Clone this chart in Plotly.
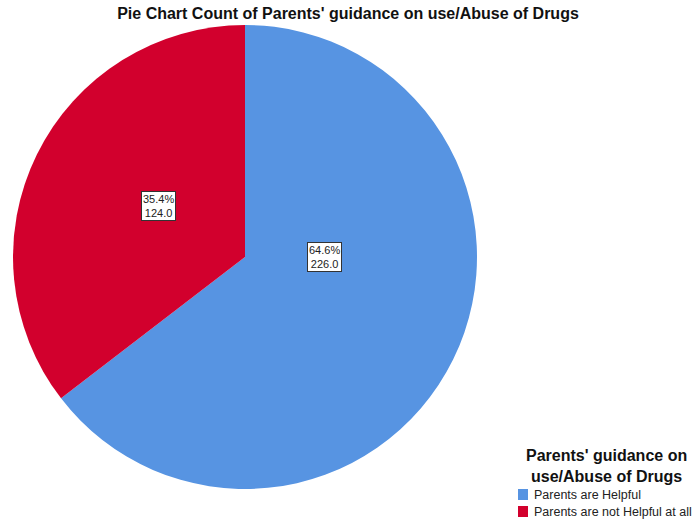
import math
import plotly.graph_objects as go

categories = ["Parents are Helpful", "Parents are not Helpful at all"]
counts = [226, 124]
colors = ["#5794E2", "#D2002D"]
title_text = "Pie Chart Count of Parents' guidance on use/Abuse of Drugs"
legend_title = "Parents' guidance on<br>use/Abuse of Drugs"

W, H = 697, 522
cx, cy, R = 245, 257, 232
dom_x = [(cx - R) / W, (cx + R) / W]
dom_y = [1 - (cy + R) / H, 1 - (cy - R) / H]

fig = go.Figure(go.Pie(
    labels=categories, values=counts, sort=False, direction="clockwise",
    rotation=0, marker=dict(colors=colors, line=dict(width=0)),
    textinfo="none", hoverinfo="label+value+percent",
    domain=dict(x=dom_x, y=dom_y), showlegend=False,
))

FONT = "Liberation Sans, Arial, sans-serif"
total = sum(counts)
start = 0.0
radius_factor = [0.38, 0.50]
for i, v in enumerate(counts):
    frac = v / total
    mid = (start + frac / 2) * 2 * math.pi
    start += frac
    r = R * radius_factor[i]
    px = cx + r * math.sin(mid)
    py = cy - r * math.cos(mid)
    if i == 0:
        py = cy
    fig.add_annotation(
        x=px / W, y=1 - py / H, xref="paper", yref="paper",
        text=f"{frac*100:.1f}%<br>{v:.1f}", showarrow=False,
        font=dict(size=11, color="#222", family=FONT),
        bgcolor="white", bordercolor="#333", borderwidth=1, borderpad=1,
        align="center",
    )

# legend (drawn manually to match layout)
fig.add_annotation(
    x=606 / W, y=1 - 466 / H, xref="paper", yref="paper",
    text=f"<b>{legend_title}</b>", showarrow=False, align="center",
    xanchor="center", yanchor="middle",
    font=dict(size=16, color="#111", family=FONT),
)
for i, (lab, col) in enumerate(zip(categories, colors)):
    yc = 494.5 + i * 17
    fig.add_shape(type="rect", xref="paper", yref="paper",
                  x0=518 / W, x1=528 / W, y0=1 - (yc + 5.5) / H, y1=1 - (yc - 5.5) / H,
                  fillcolor=col, line=dict(width=0))
    fig.add_annotation(
        x=532 / W, y=1 - yc / H, xref="paper", yref="paper",
        text=lab, showarrow=False, xanchor="left", yanchor="middle",
        font=dict(size=12.5, color="#222", family=FONT),
    )

fig.update_layout(
    width=W, height=H, margin=dict(l=0, r=0, t=0, b=0),
    paper_bgcolor="white", plot_bgcolor="white",
    font=dict(family=FONT, color="#111"),
    showlegend=False,
    title=dict(text=f"<b>{title_text}</b>",
               x=348 / W, xanchor="center", y=1 - 13 / H, yanchor="middle",
               font=dict(size=16, color="#111")),
)

fig.write_html("out.html", config={"displayModeBar": False},
               post_script="document.body.style.margin='0';document.body.style.overflow='hidden';")
